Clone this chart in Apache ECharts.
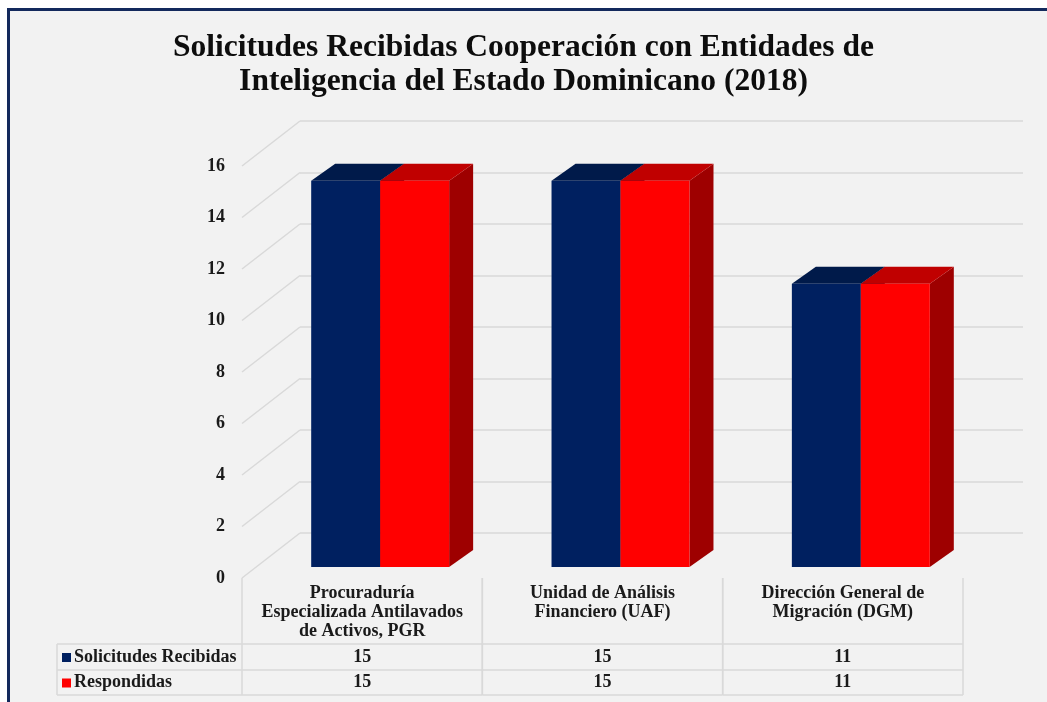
<!DOCTYPE html>
<html>
<head>
<meta charset="utf-8">
<script src="https://cdn.jsdelivr.net/npm/echarts@6/dist/echarts.min.js"></script>
<style>
html, body { margin: 0; padding: 0; background: #fff; }
.frame { position: absolute; left: 7px; top: 8px; width: 1100px; height: 800px; background: #f2f2f2; border-left: 3px solid #13295c; border-top: 3px solid #13295c; }
#chart { position: absolute; left: 0; top: 0; width: 1047px; height: 702px; }
</style>
</head>
<body>
<div class="frame"></div>
<div id="chart"></div>
<script>
const categories = ['Procuraduría\nEspecializada Antilavados\nde Activos, PGR', 'Unidad de Análisis\nFinanciero (UAF)', 'Dirección General de\nMigración (DGM)'];
const recibidas = [15, 15, 11];
const respondidas = [15, 15, 11];
const seriesNames = ['Solicitudes Recibidas', 'Respondidas'];
const yTicks = [0, 2, 4, 6, 8, 10, 12, 14, 16];

const FONT = '"Liberation Serif", serif';
const GRID_COLOR = '#d9d9d9';
const navy = { front: '#002060', top: '#001a4a', side: '#00153d' };
const red = { front: '#ff0000', top: '#c00000', side: '#9e0000' };

// bar front face sits a bit behind the front plane
const SHIFT_X = 18, SHIFT_Y = -11;
// 3d depth of a bar and of the back wall
const BAR_DX = 24, BAR_DY = -17;
const WALL_DX = 58, WALL_DY = -45;

function barItem(k, colors) {
    return function (params, api) {
        const i = api.value(0);
        const base = api.coord([i, 0]);
        const top = api.coord([i, api.value(1)]);
        const band = api.size([1, 0])[0];
        const w = band * 0.287;
        const x0 = base[0] + SHIFT_X + (k - 1) * w;
        const yb = base[1] + SHIFT_Y, yt = top[1] + SHIFT_Y;
        return {
            type: 'group',
            children: [
                { type: 'polygon', shape: { points: [[x0 + w, yt], [x0 + w + BAR_DX, yt + BAR_DY], [x0 + w + BAR_DX, yb + BAR_DY], [x0 + w, yb]] }, style: { fill: colors.side } },
                { type: 'polygon', shape: { points: [[x0, yt], [x0 + BAR_DX, yt + BAR_DY], [x0 + w + BAR_DX, yt + BAR_DY], [x0 + w, yt]] }, style: { fill: colors.top } },
                { type: 'rect', shape: { x: x0, y: yt, width: w, height: yb - yt }, style: { fill: colors.front } }
            ]
        };
    };
}

function wallItem(params, api) {
    const y = api.coord([0, api.value(1)])[1];
    const x = params.coordSys.x;
    return {
        type: 'line',
        shape: { x1: x, y1: y, x2: x + WALL_DX, y2: y + WALL_DY },
        style: { stroke: GRID_COLOR, lineWidth: 1.5 }
    };
}

const ROW1 = 66, ROW2 = 92, ROW3 = 117;
const cellText = { fontFamily: FONT, fontWeight: 'bold', fontSize: 18, fill: '#1a1a1a', align: 'center', verticalAlign: 'middle' };

function tableItem(params, api) {
    const i = api.value(0);
    const c = api.coord([i, 0]);
    const band = api.size([1, 0])[0];
    const L = c[0] - band / 2, R = c[0] + band / 2, y0 = c[1];
    const ln = (x1, y1, x2, y2) => ({ type: 'line', shape: { x1, y1, x2, y2 }, style: { stroke: GRID_COLOR, lineWidth: 1.5 } });
    return {
        type: 'group',
        children: [
            ln(L, y0, L, y0 + ROW3),
            ln(R, y0, R, y0 + ROW3),
            ln(L, y0 + ROW1, R, y0 + ROW1),
            ln(L, y0 + ROW2, R, y0 + ROW2),
            ln(L, y0 + ROW3, R, y0 + ROW3),
            { type: 'text', style: Object.assign({ text: String(api.value(1)), x: c[0], y: y0 + (ROW1 + ROW2) / 2 }, cellText) },
            { type: 'text', style: Object.assign({ text: String(api.value(2)), x: c[0], y: y0 + (ROW2 + ROW3) / 2 }, cellText) }
        ]
    };
}

const chart = echarts.init(document.getElementById('chart'), null, { renderer: 'canvas' });

const legendLeft = 57, legendRight = 242, tableTop = 578;
const legendEls = [
    { type: 'line', shape: { x1: legendLeft, y1: tableTop + ROW1, x2: legendRight, y2: tableTop + ROW1 }, style: { stroke: GRID_COLOR, lineWidth: 1.5 } },
    { type: 'line', shape: { x1: legendLeft, y1: tableTop + ROW2, x2: legendRight, y2: tableTop + ROW2 }, style: { stroke: GRID_COLOR, lineWidth: 1.5 } },
    { type: 'line', shape: { x1: legendLeft, y1: tableTop + ROW3, x2: legendRight, y2: tableTop + ROW3 }, style: { stroke: GRID_COLOR, lineWidth: 1.5 } },
    { type: 'line', shape: { x1: legendLeft, y1: tableTop + ROW1, x2: legendLeft, y2: tableTop + ROW3 }, style: { stroke: GRID_COLOR, lineWidth: 1.5 } }
];
[navy, red].forEach((col, k) => {
    const yc = tableTop + (k === 0 ? (ROW1 + ROW2) / 2 : (ROW2 + ROW3) / 2);
    legendEls.push({ type: 'rect', shape: { x: 62, y: yc - 4, width: 9, height: 9 }, style: { fill: col.front } });
    legendEls.push({ type: 'text', style: { text: seriesNames[k], x: 74, y: yc, fontFamily: FONT, fontWeight: 'bold', fontSize: 18, fill: '#1a1a1a', verticalAlign: 'middle' } });
});

const options = {
    animation: false,
    backgroundColor: 'transparent',
    title: {
        text: 'Solicitudes Recibidas Cooperación con Entidades de\nInteligencia del Estado Dominicano (2018)',
        left: 'center',
        top: 26,
        textStyle: { fontFamily: FONT, fontWeight: 'bold', fontSize: 31.5, lineHeight: 34, color: '#0d0d0d' }
    },
    graphic: legendEls,
    grid: [
        // back wall
        { left: 300, right: 24, top: 121, bottom: 169 },
        // front plane, lines up with the data table
        { left: 242, right: 84, top: 166, bottom: 124 }
    ],
    xAxis: [
        { type: 'category', gridIndex: 0, data: categories, show: false },
        {
            type: 'category', gridIndex: 1, data: categories,
            axisLine: { show: false }, axisTick: { show: false },
            axisLabel: { interval: 0, margin: 6, fontFamily: FONT, fontWeight: 'bold', fontSize: 18, lineHeight: 19, color: '#1a1a1a' }
        }
    ],
    yAxis: [
        {
            type: 'value', gridIndex: 0, min: 0, max: 16, interval: 2,
            axisLabel: { show: false }, axisLine: { show: false }, axisTick: { show: false },
            splitLine: { lineStyle: { color: GRID_COLOR, width: 1.5 } }
        },
        {
            type: 'value', gridIndex: 1, min: 0, max: 16, interval: 2,
            axisLine: { show: false }, axisTick: { show: false }, splitLine: { show: false },
            axisLabel: { margin: 17, fontFamily: FONT, fontWeight: 'bold', fontSize: 18, color: '#1a1a1a' }
        }
    ],
    series: [
        {
            type: 'custom', name: 'wall', xAxisIndex: 1, yAxisIndex: 1,
            data: yTicks.map(v => [0, v]), renderItem: wallItem, silent: true, z: 1
        },
        {
            type: 'custom', name: seriesNames[0], xAxisIndex: 1, yAxisIndex: 1,
            data: recibidas.map((v, i) => [i, v]), renderItem: barItem(0, navy), z: 3
        },
        {
            type: 'custom', name: seriesNames[1], xAxisIndex: 1, yAxisIndex: 1,
            data: respondidas.map((v, i) => [i, v]), renderItem: barItem(1, red), z: 4
        },
        {
            type: 'custom', name: 'table', xAxisIndex: 1, yAxisIndex: 1,
            data: categories.map((c, i) => [i, recibidas[i], respondidas[i]]), renderItem: tableItem, silent: true, z: 2
        }
    ]
};
chart.setOption(options);
</script>
</body>
</html>
